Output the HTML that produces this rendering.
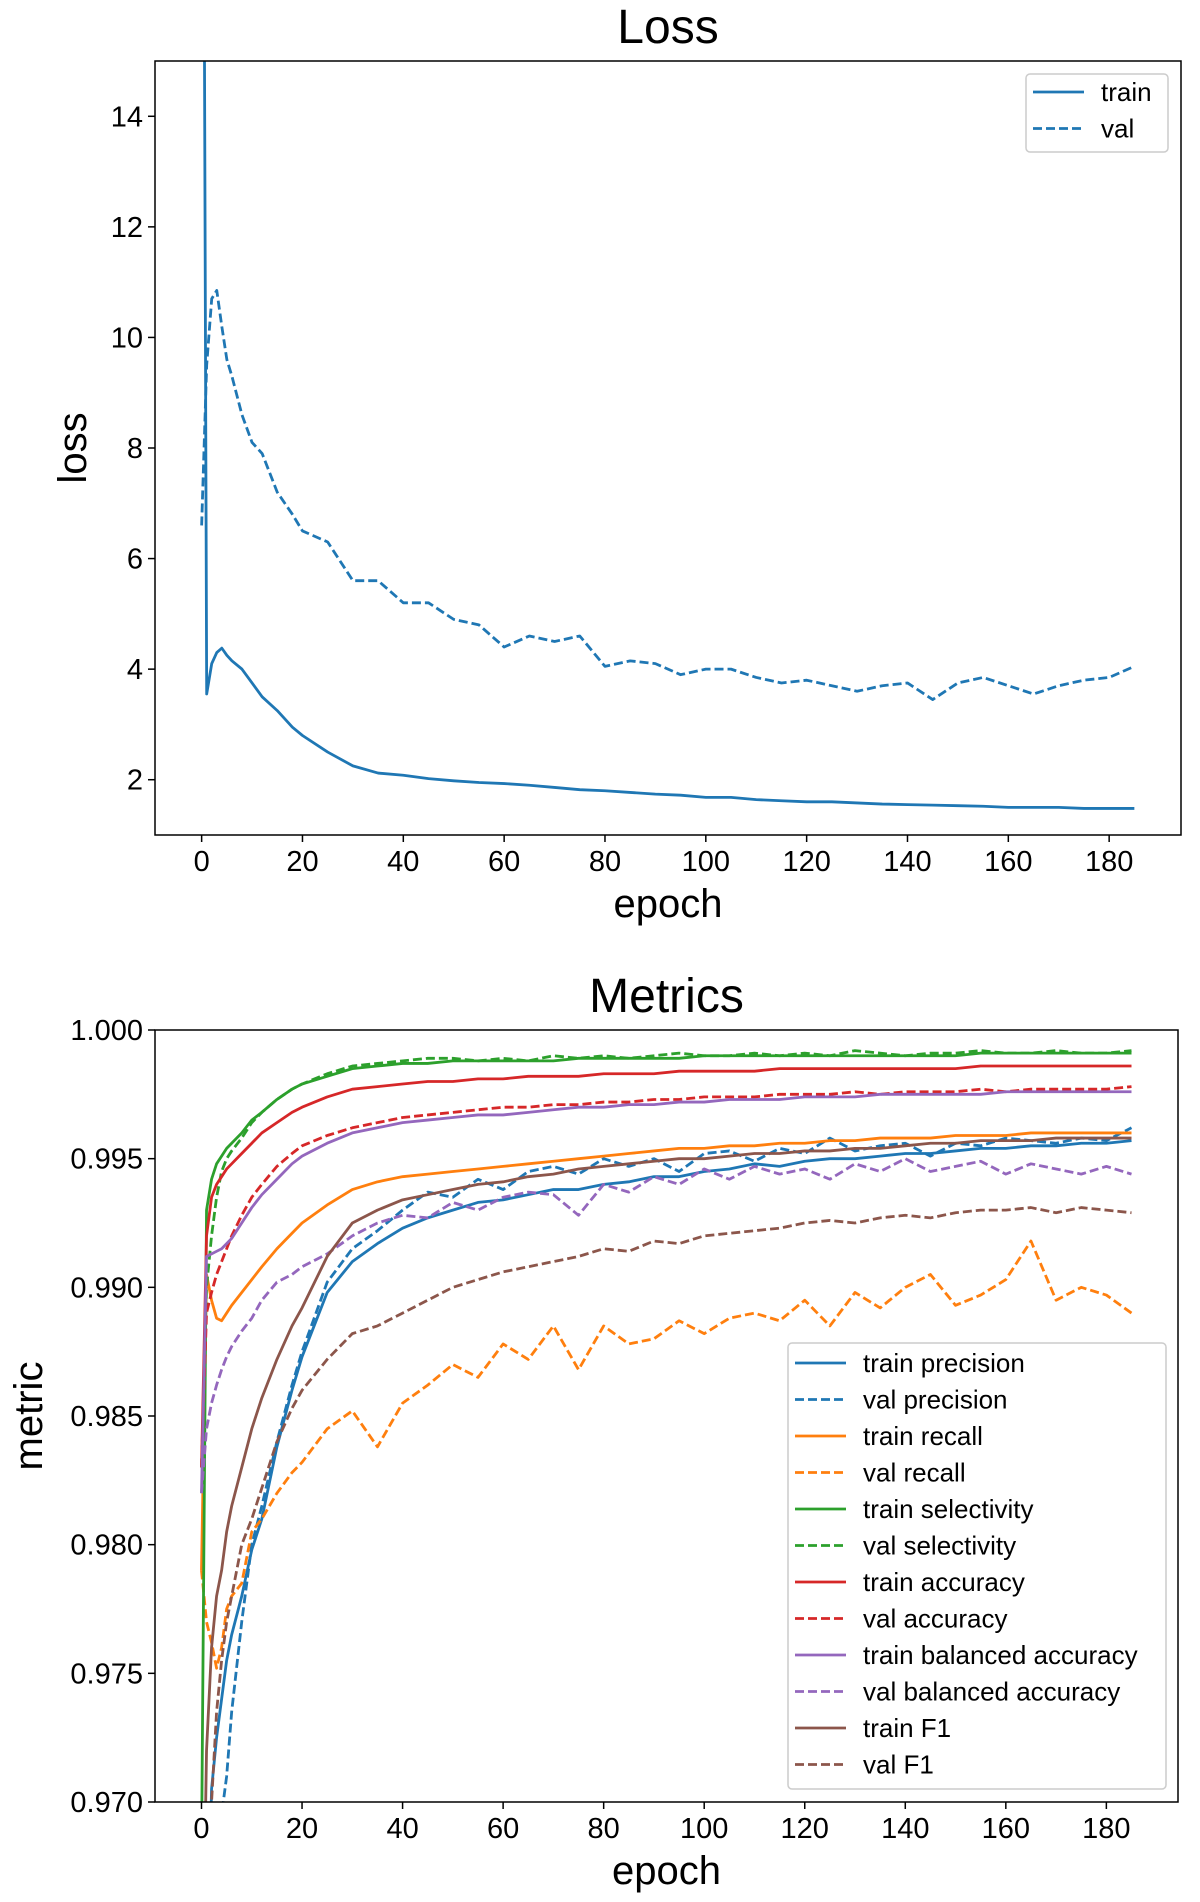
<!DOCTYPE html>
<html><head><meta charset="utf-8"><style>
html,body{margin:0;padding:0;background:#fff;width:1200px;height:1902px;overflow:hidden;}
svg{display:block;font-family:"Liberation Sans","DejaVu Sans",sans-serif;}
</style></head><body>
<svg id="fig" width="1200" height="1902" viewBox="0 0 1200 1902"></svg>
<script>
// ---------- data ----------
const epochs = [0,1,2,3,4,5,6,8,10,12,15,18,20,25,30,35,40,45,50,55,60,65,70,75,80,85,90,95,100,105,110,115,120,125,130,135,140,145,150,155,160,165,170,175,180,185];
const xTicks = [0,20,40,60,80,100,120,140,160,180];
const lossTicks = [2,4,6,8,10,12,14];
const metricTicks = [0.970,0.975,0.980,0.985,0.990,0.995,1.000];
const metricTickLabels = ["0.970","0.975","0.980","0.985","0.990","0.995","1.000"];

const lossTrain = [30,3.55,4.1,4.3,4.38,4.25,4.15,4.0,3.75,3.5,3.25,2.95,
 2.8,2.5,2.25,2.12,2.08,2.02,1.98,1.95,1.93,1.9,1.86,1.82,1.8,1.77,1.74,1.72,1.68,1.68,1.64,1.62,
 1.6,1.6,1.58,1.56,1.55,1.54,1.53,1.52,1.5,1.5,1.5,1.48,1.48,1.48];
const lossVal = [6.6,9.5,10.7,10.85,10.2,9.6,9.3,8.6,8.1,7.9,7.2,6.8,
 6.5,6.3,5.6,5.6,5.2,5.2,4.9,4.8,4.4,4.6,4.5,4.6,4.05,4.15,4.1,3.9,4.0,4.0,3.85,3.75,
 3.8,3.7,3.6,3.7,3.75,3.45,3.75,3.85,3.7,3.55,3.7,3.8,3.85,4.05];

const trainPrec = [0.955,0.962,0.9705,0.9725,0.974,0.9755,0.9765,0.978,0.9798,0.981,0.9838,0.986,
 0.9873,0.9898,0.991,0.9917,0.9923,0.9927,0.993,0.9933,0.9934,0.9936,0.9938,0.9938,0.994,0.9941,0.9943,0.9943,0.9945,0.9946,0.9948,0.9947,
 0.9949,0.995,0.995,0.9951,0.9952,0.9952,0.9953,0.9954,0.9954,0.9955,0.9955,0.9956,0.9956,0.9957];
const valPrec = [0.95,0.955,0.96,0.966,0.9695,0.971,0.9735,0.977,0.98,0.9815,0.984,0.9862,
 0.9875,0.9902,0.9915,0.9922,0.993,0.9937,0.9935,0.9942,0.9938,0.9945,0.9947,0.9944,0.995,0.9947,0.995,0.9945,0.9952,0.9953,0.9949,0.9954,
 0.9952,0.9958,0.9953,0.9955,0.9956,0.9951,0.9956,0.9955,0.9958,0.9957,0.9956,0.9958,0.9957,0.9962];
const trainRec = [0.979,0.9905,0.9895,0.9888,0.9887,0.989,0.9893,0.9898,0.9903,0.9908,0.9915,0.9921,
 0.9925,0.9932,0.9938,0.9941,0.9943,0.9944,0.9945,0.9946,0.9947,0.9948,0.9949,0.995,0.9951,0.9952,0.9953,0.9954,0.9954,0.9955,0.9955,0.9956,
 0.9956,0.9957,0.9957,0.9958,0.9958,0.9958,0.9959,0.9959,0.9959,0.996,0.996,0.996,0.996,0.996];
const valRec = [0.979,0.977,0.9762,0.9752,0.976,0.9775,0.978,0.9785,0.9805,0.981,0.982,0.9828,
 0.9832,0.9845,0.9852,0.9838,0.9855,0.9862,0.987,0.9865,0.9878,0.9872,0.9885,0.9868,0.9885,0.9878,0.988,0.9887,0.9882,0.9888,0.989,0.9887,
 0.9895,0.9885,0.9898,0.9892,0.99,0.9905,0.9893,0.9897,0.9903,0.9918,0.9895,0.99,0.9897,0.989];
const trainSel = [0.968,0.993,0.9942,0.9948,0.9951,0.9954,0.9956,0.996,0.9965,0.9968,0.9973,0.9977,
 0.9979,0.9982,0.9985,0.9986,0.9987,0.9987,0.9988,0.9988,0.9988,0.9988,0.9988,0.9989,0.9989,0.9989,0.9989,0.9989,0.999,0.999,0.999,0.999,
 0.999,0.999,0.999,0.999,0.999,0.999,0.999,0.9991,0.9991,0.9991,0.9991,0.9991,0.9991,0.9991];
const valSel = [0.983,0.990,0.992,0.9935,0.9945,0.995,0.9953,0.9958,0.9964,0.9968,0.9973,0.9977,
 0.9979,0.9983,0.9986,0.9987,0.9988,0.9989,0.9989,0.9988,0.9989,0.9988,0.999,0.9989,0.999,0.9989,0.999,0.9991,0.999,0.999,0.9991,0.999,
 0.9991,0.999,0.9992,0.9991,0.999,0.9991,0.9991,0.9992,0.9991,0.9991,0.9992,0.9991,0.9991,0.9992];
const trainAcc = [0.983,0.992,0.9935,0.994,0.9943,0.9946,0.9948,0.9952,0.9956,0.996,0.9964,0.9968,
 0.997,0.9974,0.9977,0.9978,0.9979,0.998,0.998,0.9981,0.9981,0.9982,0.9982,0.9982,0.9983,0.9983,0.9983,0.9984,0.9984,0.9984,0.9984,0.9985,
 0.9985,0.9985,0.9985,0.9985,0.9985,0.9985,0.9985,0.9986,0.9986,0.9986,0.9986,0.9986,0.9986,0.9986];
const valAcc = [0.983,0.989,0.9898,0.9905,0.991,0.9915,0.992,0.9928,0.9935,0.994,0.9947,0.9952,
 0.9955,0.9959,0.9962,0.9964,0.9966,0.9967,0.9968,0.9969,0.997,0.997,0.9971,0.9971,0.9972,0.9972,0.9973,0.9973,0.9974,0.9974,0.9974,0.9975,
 0.9975,0.9975,0.9976,0.9975,0.9976,0.9976,0.9976,0.9977,0.9976,0.9977,0.9977,0.9977,0.9977,0.9978];
const trainBal = [0.982,0.9912,0.9913,0.9914,0.9915,0.9917,0.9919,0.9925,0.9931,0.9936,0.9942,0.9948,
 0.9951,0.9956,0.996,0.9962,0.9964,0.9965,0.9966,0.9967,0.9967,0.9968,0.9969,0.997,0.997,0.9971,0.9971,0.9972,0.9972,0.9973,0.9973,0.9973,
 0.9974,0.9974,0.9974,0.9975,0.9975,0.9975,0.9975,0.9975,0.9976,0.9976,0.9976,0.9976,0.9976,0.9976];
const valBal = [0.982,0.9845,0.9855,0.9862,0.9868,0.9873,0.9877,0.9883,0.9888,0.9895,0.9902,0.9905,
 0.9908,0.9913,0.992,0.9925,0.9928,0.9927,0.9933,0.993,0.9935,0.9937,0.9936,0.9928,0.994,0.9937,0.9943,0.994,0.9946,0.9942,0.9947,0.9944,
 0.9946,0.9942,0.9948,0.9945,0.995,0.9945,0.9947,0.9949,0.9944,0.9948,0.9946,0.9944,0.9947,0.9944];
const trainF1 = [0.96,0.972,0.976,0.978,0.979,0.9805,0.9815,0.983,0.9845,0.9857,0.9872,0.9885,
 0.9892,0.9912,0.9925,0.993,0.9934,0.9936,0.9938,0.994,0.9941,0.9943,0.9944,0.9946,0.9947,0.9948,0.9949,0.995,0.995,0.9951,0.9952,0.9952,
 0.9953,0.9953,0.9954,0.9954,0.9955,0.9956,0.9956,0.9957,0.9957,0.9957,0.9958,0.9958,0.9958,0.9958];
const valF1 = [0.96,0.966,0.97,0.9735,0.9755,0.977,0.978,0.98,0.981,0.9822,0.984,0.9853,
 0.986,0.9872,0.9882,0.9885,0.989,0.9895,0.99,0.9903,0.9906,0.9908,0.991,0.9912,0.9915,0.9914,0.9918,0.9917,0.992,0.9921,0.9922,0.9923,
 0.9925,0.9926,0.9925,0.9927,0.9928,0.9927,0.9929,0.993,0.993,0.9931,0.9929,0.9931,0.993,0.9929];

// ---------- drawing ----------
const NS = "http://www.w3.org/2000/svg";
const svg = document.getElementById("fig");
function mk(tag, attrs, parent) {
  const e = document.createElementNS(NS, tag);
  for (const k in attrs) e.setAttribute(k, attrs[k]);
  (parent || svg).appendChild(e);
  return e;
}
const C = {blue:"#1f77b4",orange:"#ff7f0e",green:"#2ca02c",red:"#d62728",purple:"#9467bd",brown:"#8c564b"};

function drawAxes(cfg) {
  const g = mk("g", {});
  
  
  const {L,R,T,B,xmin,xmax,ymin,ymax} = cfg;
  const sx = v => L + (v - xmin) / (xmax - xmin) * (R - L);
  const sy = v => B - (v - ymin) / (ymax - ymin) * (B - T);
  const clipId = cfg.name + "-clip";
  const defs = mk("defs", {}, g);
  const cp = mk("clipPath", {id: clipId}, defs);
  mk("rect", {x:L, y:T, width:R-L, height:B-T}, cp);
  const sg = mk("g", {"clip-path": "url(#" + clipId + ")"}, g);
  cfg.series.forEach(s => {
    const d = epochs.map((e,i) => (i ? "L" : "M") + sx(e).toFixed(2) + "," + sy(s.values[i]).toFixed(2)).join(" ");
    const p = mk("path", {d:d, fill:"none", stroke:s.color, "stroke-width":2.8, "stroke-linejoin":"round"}, sg);
    if (s.dash) p.setAttribute("stroke-dasharray", "9,4");
    
    
  });
  const fr = mk("rect", {x:L, y:T, width:R-L, height:B-T, fill:"none", stroke:"#000", "stroke-width":1.5}, g);
  
  
  xTicks.forEach(t => {
    const x = sx(t);
    mk("line", {x1:x, y1:B, x2:x, y2:B+7, stroke:"#000", "stroke-width":1.5}, g);
    const tx = mk("text", {x:x, y:B+36, "text-anchor":"middle", "font-size":29, fill:"#000"}, g);
    tx.textContent = t;
    
    
  });
  cfg.yTicks.forEach((t,i) => {
    const y = sy(t);
    mk("line", {x1:L-7, y1:y, x2:L, y2:y, stroke:"#000", "stroke-width":1.5}, g);
    const tx = mk("text", {x:L-12, y:y+10, "text-anchor":"end", "font-size":29, fill:"#000"}, g);
    tx.textContent = cfg.yLabels ? cfg.yLabels[i] : t;
    
    
  });
  const ti = mk("text", {x:(L+R)/2, y:T-18, "text-anchor":"middle", "font-size":48, fill:"#000"}, g);
  ti.textContent = cfg.title;
  
  
  const xl = mk("text", {x:(L+R)/2, y:B+82, "text-anchor":"middle", "font-size":40, fill:"#000"}, g);
  xl.textContent = "epoch";
  
  
  const yl = mk("text", {x:0, y:0, "text-anchor":"middle", "font-size":40, fill:"#000",
    transform:"translate(" + cfg.ylx + "," + ((T+B)/2) + ") rotate(-90)"}, g);
  yl.textContent = cfg.ylabel;
  
  
  const lg = mk("g", {}, g);
  
  
  const lb = cfg.legend;
  mk("rect", {x:lb.x, y:lb.y, width:lb.w, height:lb.h, rx:4, fill:"#fff", "fill-opacity":0.85, stroke:"#ccc", "stroke-width":1.5}, lg);
  cfg.series.forEach((s,i) => {
    const y = lb.row0 + i * lb.dy;
    const ln = mk("line", {x1:lb.x+7, y1:y, x2:lb.x+58, y2:y, stroke:s.color, "stroke-width":2.8}, lg);
    if (s.dash) ln.setAttribute("stroke-dasharray", "9,4");
    const tx = mk("text", {x:lb.x+75, y:y+9, "font-size":26, fill:"#000"}, lg);
    tx.textContent = s.label;
    
    
  });
}

drawAxes({
  name:"loss-chart", title:"Loss", ylabel:"loss", ylx:86,
  L:155, R:1181, T:61, B:835, xmin:-9.25, xmax:194.25, ymin:1, ymax:15,
  yTicks: lossTicks,
  series:[
    {id:"train-loss", label:"train", values:lossTrain, color:C.blue, dash:false},
    {id:"val-loss", label:"val", values:lossVal, color:C.blue, dash:true}
  ],
  legend:{x:1026, y:74, w:142, h:78, row0:92, dy:36.5}
});

drawAxes({
  name:"metrics-chart", title:"Metrics", ylabel:"metric", ylx:42,
  L:155, R:1178, T:1030, B:1802, xmin:-9.25, xmax:194.25, ymin:0.970, ymax:1.000,
  yTicks: metricTicks, yLabels: metricTickLabels,
  series:[
    {id:"train-precision", label:"train precision", values:trainPrec, color:C.blue, dash:false},
    {id:"val-precision", label:"val precision", values:valPrec, color:C.blue, dash:true},
    {id:"train-recall", label:"train recall", values:trainRec, color:C.orange, dash:false},
    {id:"val-recall", label:"val recall", values:valRec, color:C.orange, dash:true},
    {id:"train-selectivity", label:"train selectivity", values:trainSel, color:C.green, dash:false},
    {id:"val-selectivity", label:"val selectivity", values:valSel, color:C.green, dash:true},
    {id:"train-accuracy", label:"train accuracy", values:trainAcc, color:C.red, dash:false},
    {id:"val-accuracy", label:"val accuracy", values:valAcc, color:C.red, dash:true},
    {id:"train-balanced-accuracy", label:"train balanced accuracy", values:trainBal, color:C.purple, dash:false},
    {id:"val-balanced-accuracy", label:"val balanced accuracy", values:valBal, color:C.purple, dash:true},
    {id:"train-f1", label:"train F1", values:trainF1, color:C.brown, dash:false},
    {id:"val-f1", label:"val F1", values:valF1, color:C.brown, dash:true}
  ],
  legend:{x:788, y:1343, w:378, h:446, row0:1363, dy:36.5}
});
</script>
</body></html>
